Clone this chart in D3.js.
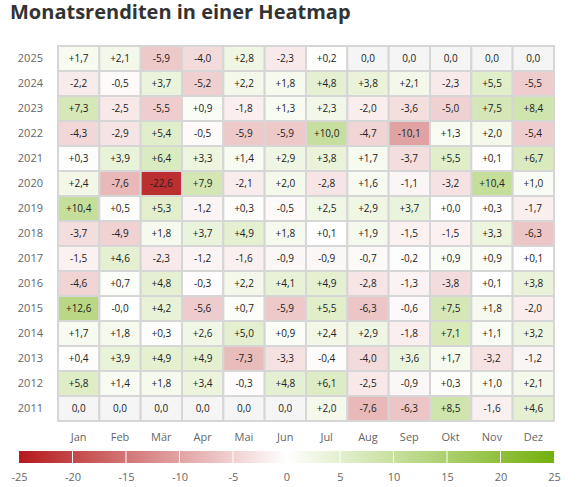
<!DOCTYPE html>
<html>
<head>
<meta charset="utf-8">
<script src="https://cdn.jsdelivr.net/npm/d3@7"></script>
<style>
  body { margin: 0; background: #fff; }
  text { font-family: "Open Sans", sans-serif; }
</style>
</head>
<body>
<div id="chart"></div>
<script>
const months = ['Jan', 'Feb', 'Mär', 'Apr', 'Mai', 'Jun', 'Jul', 'Aug', 'Sep', 'Okt', 'Nov', 'Dez'];
const years = ['2025', '2024', '2023', '2022', '2021', '2020', '2019', '2018', '2017', '2016', '2015', '2014', '2013', '2012', '2011'];

// one row per year, null = no data
const returns = [
	[1.7, 2.1, -5.9, -4.0, 2.8, -2.3, 0.2, null, null, null, null, null],
	[-2.2, -0.5, 3.7, -5.2, 2.2, 1.8, 4.8, 3.8, 2.1, -2.3, 5.5, -5.5],
	[7.3, -2.5, -5.5, 0.9, -1.8, 1.3, 2.3, -2.0, -3.6, -5.0, 7.5, 8.4],
	[-4.3, -2.9, 5.4, -0.5, -5.9, -5.9, 10.0, -4.7, -10.1, 1.3, 2.0, -5.4],
	[0.3, 3.9, 6.4, 3.3, 1.4, 2.9, 3.8, 1.7, -3.7, 5.5, 0.1, 6.7],
	[2.4, -7.6, -22.6, 7.9, -2.1, 2.0, -2.8, 1.6, -1.1, -3.2, 10.4, 1.0],
	[10.4, 0.5, 5.3, -1.2, 0.3, -0.5, 2.5, 2.9, 3.7, 0.0, 0.3, -1.7],
	[-3.7, -4.9, 1.8, 3.7, 4.9, 1.8, 0.1, 1.9, -1.5, -1.5, 3.3, -6.3],
	[-1.5, 4.6, -2.3, -1.2, -1.6, -0.9, -0.9, -0.7, -0.2, 0.9, 0.9, 0.1],
	[-4.6, 0.7, 4.8, -0.3, 2.2, 4.1, 4.9, -2.8, -1.3, -3.8, 0.1, 3.8],
	[12.6, -0.01, 4.2, -5.6, 0.7, -5.9, 5.5, -6.3, -0.6, 7.5, 1.8, -2.0],
	[1.7, 1.8, 0.3, 2.6, 5.0, 0.9, 2.4, 2.9, -1.8, 7.1, 1.1, 3.2],
	[0.4, 3.9, 4.9, 4.9, -7.3, -3.3, -0.4, -4.0, 3.6, 1.7, -3.2, -1.2],
	[5.8, 1.4, 1.8, 3.4, -0.3, 4.8, 6.1, -2.5, -0.9, 0.3, 1.0, 2.1],
	[null, null, null, null, null, null, 2.0, -7.6, -6.3, 8.5, -1.6, 4.6]
];

const legendTicks = [-25, -20, -15, -10, -5, 0, 5, 10, 15, 20, 25];

const width = 578;
const height = 487;

const cells = [];
years.forEach((year, i) => {
	months.forEach((month, j) => {
		cells.push({ year: year, month: month, value: returns[i][j] });
	});
});

const svg = d3.select('#chart')
	.append('svg')
	.attr('width', width)
	.attr('height', height);

svg.append('text')
	.attr('x', 10)
	.attr('y', 19)
	.attr('font-size', 20)
	.attr('font-weight', 700)
	.attr('fill', '#333')
	.text('Monatsrenditen in einer Heatmap');

const xScale = d3.scaleBand()
	.domain(months)
	.range([58, 554]);

const yScale = d3.scaleBand()
	.domain(years)
	.range([46, 421]);

const color = d3.scaleLinear()
	.domain([-25, 0, 25])
	.range(['#b5191b', '#ffffff', '#74b00d']);

const fmt = v => {
	if (v === null) return '0,0';
	const s = v < 0 ? '-' : '+';
	return s + Math.abs(v).toFixed(1).replace('.', ',');
};

const cellG = svg.selectAll('g.cell')
	.data(cells)
	.enter()
	.append('g')
	.attr('class', 'cell');

cellG.append('rect')
	.attr('x', d => xScale(d.month))
	.attr('y', d => yScale(d.year))
	.attr('width', xScale.bandwidth())
	.attr('height', yScale.bandwidth())
	.attr('fill', d => d.value === null ? '#f5f5f5' : color(d.value))
	.attr('stroke', '#d6d6d6')
	.attr('stroke-width', 2);

cellG.append('text')
	.attr('x', d => xScale(d.month) + xScale.bandwidth() / 2)
	.attr('y', d => yScale(d.year) + yScale.bandwidth() / 2)
	.attr('dy', '0.35em')
	.attr('text-anchor', 'middle')
	.attr('font-size', 10)
	.attr('fill', '#222')
	.text(d => fmt(d.value));

// year labels
svg.selectAll('text.year')
	.data(years)
	.enter()
	.append('text')
	.attr('class', 'year')
	.attr('x', 43)
	.attr('y', d => yScale(d) + yScale.bandwidth() / 2)
	.attr('dy', '0.35em')
	.attr('text-anchor', 'end')
	.attr('font-size', 11)
	.attr('fill', '#666')
	.text(d => d);

// month labels
svg.selectAll('text.month')
	.data(months)
	.enter()
	.append('text')
	.attr('class', 'month')
	.attr('x', d => xScale(d) + xScale.bandwidth() / 2)
	.attr('y', 437)
	.attr('dy', '0.35em')
	.attr('text-anchor', 'middle')
	.attr('font-size', 11)
	.attr('fill', '#666')
	.text(d => d);

// legend
const lScale = d3.scaleLinear()
	.domain([-25, 25])
	.range([19, 554]);

const grad = svg.append('defs')
	.append('linearGradient')
	.attr('id', 'legendGrad')
	.attr('x1', '0%').attr('x2', '100%')
	.attr('y1', '0%').attr('y2', '0%');

grad.selectAll('stop')
	.data(color.domain())
	.enter()
	.append('stop')
	.attr('offset', d => ((d + 25) / 50 * 100) + '%')
	.attr('stop-color', d => color(d));

svg.append('rect')
	.attr('x', lScale(-25))
	.attr('y', 451)
	.attr('width', lScale(25) - lScale(-25))
	.attr('height', 12)
	.attr('fill', 'url(#legendGrad)');

svg.selectAll('line.sep')
	.data(legendTicks.slice(1, -1))
	.enter()
	.append('line')
	.attr('class', 'sep')
	.attr('x1', d => lScale(d))
	.attr('x2', d => lScale(d))
	.attr('y1', 451)
	.attr('y2', 463)
	.attr('stroke', '#fff')
	.attr('stroke-width', 1);

const lAxis = d3.axisBottom(lScale)
	.tickValues(legendTicks)
	.tickSize(0)
	.tickPadding(0)
	.tickFormat(d => String(d));

const lAxisG = svg.append('g')
	.attr('transform', 'translate(0, 473)')
	.call(lAxis);

lAxisG.select('.domain').remove();
lAxisG.selectAll('text')
	.attr('font-family', '"Open Sans", sans-serif')
	.attr('font-size', 11)
	.attr('fill', '#666');
</script>
</body>
</html>
